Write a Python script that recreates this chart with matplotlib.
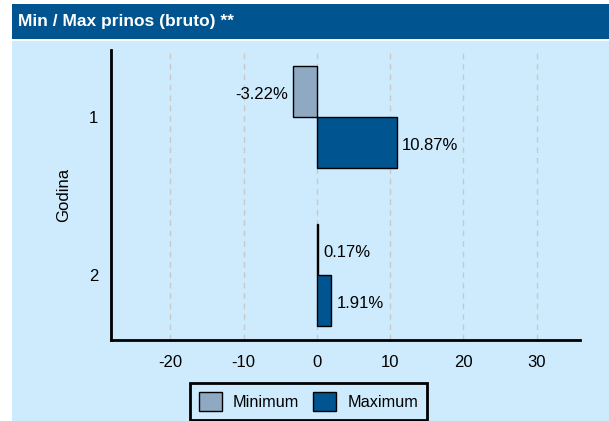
import matplotlib
matplotlib.use('Agg')
import matplotlib.pyplot as plt
from matplotlib.patches import Rectangle, Patch
import numpy as np

plt.rcParams['font.family'] = ['Liberation Sans', 'DejaVu Sans']

# Data
years = ['1', '2']
minimum = [-3.22, 0.17]
maximum = [10.87, 1.91]
xticks = [-20, -10, 0, 10, 20, 30]

DARK = '#00548f'
LIGHT_BAR = '#8fa9c2'
PANEL = '#cdebfd'

W, H = 609, 421
fig = plt.figure(figsize=(W / 100, H / 100), dpi=100)
fig.patch.set_facecolor('white')

# background panel and title band (pixel coords -> figure fractions)
fig.patches.append(Rectangle((12 / W, 0), 1 - 12 / W, 1 - 41 / H,
                             transform=fig.transFigure, facecolor=PANEL,
                             edgecolor='none', zorder=-2))
fig.patches.append(Rectangle((12 / W, 1 - 39 / H), 1 - 12 / W, 35 / H,
                             transform=fig.transFigure, facecolor=DARK,
                             edgecolor='none', zorder=-2))
fig.text(18 / W, 1 - 21.5 / H, 'Min / Max prinos (bruto) **', color='white',
         fontsize=12.5, fontweight='bold', va='center', ha='left')

ax = fig.add_axes([111 / W, 1 - 340 / H, (580 - 111) / W, (340 - 50) / H])
ax.set_facecolor('none')

y = np.arange(1, len(years) + 1)
h = 0.322
ax.barh(y - h / 2, minimum, height=h, color=LIGHT_BAR, edgecolor='black',
        linewidth=1, label='Minimum', zorder=3)
ax.barh(y + h / 2, maximum, height=h, color=DARK, edgecolor='black',
        linewidth=1, label='Maximum', zorder=3)

# value labels next to bar ends
FS = 12
for yi, v in zip(y, minimum):
    dx = -4 if v < 0 else 4
    ax.annotate(f'{v:.2f}%', (v, yi - h / 2), xytext=(dx, -2),
                textcoords='offset points', ha='right' if v < 0 else 'left',
                va='center', fontsize=FS, zorder=4)
for yi, v in zip(y, maximum):
    ax.annotate(f'{v:.2f}%', (v, yi + h / 2), xytext=(4, -2),
                textcoords='offset points', ha='left', va='center',
                fontsize=FS, zorder=4)

ax.set_xlim(-28.1, 35.9)
ax.set_ylim(2.41, 0.576)
ax.set_xticks(xticks)
ax.set_xticklabels([str(t) for t in xticks], fontsize=FS)
ax.set_yticks(y)
ax.set_yticklabels(years, fontsize=FS)
ax.tick_params(axis='x', length=0, pad=11)
ax.tick_params(axis='y', length=0, pad=9)
ax.set_ylabel('Godina', fontsize=FS, labelpad=13)

ax.grid(axis='x', color='#c8c8c8', linestyle=(0, (4, 3.5)), linewidth=1, zorder=1)
ax.set_axisbelow(True)
for s in ['top', 'right']:
    ax.spines[s].set_visible(False)
for s in ['left', 'bottom']:
    ax.spines[s].set_linewidth(2)

handles = [Patch(facecolor=LIGHT_BAR, edgecolor='black', label='Minimum'),
           Patch(facecolor=DARK, edgecolor='black', label='Maximum')]
leg = fig.legend(handles=handles, loc='upper center', ncol=2,
                 bbox_to_anchor=(308.5 / W, 1 - 383 / H), fontsize=11.7,
                 frameon=True, fancybox=False, edgecolor='black',
                 facecolor=PANEL, handlelength=1.4, handleheight=1.4,
                 borderpad=0.55, columnspacing=0.85, handletextpad=0.7,
                 borderaxespad=0)
leg.get_frame().set_linewidth(2)
leg.get_frame().set_alpha(1)

fig.savefig('out.png', dpi=100)
